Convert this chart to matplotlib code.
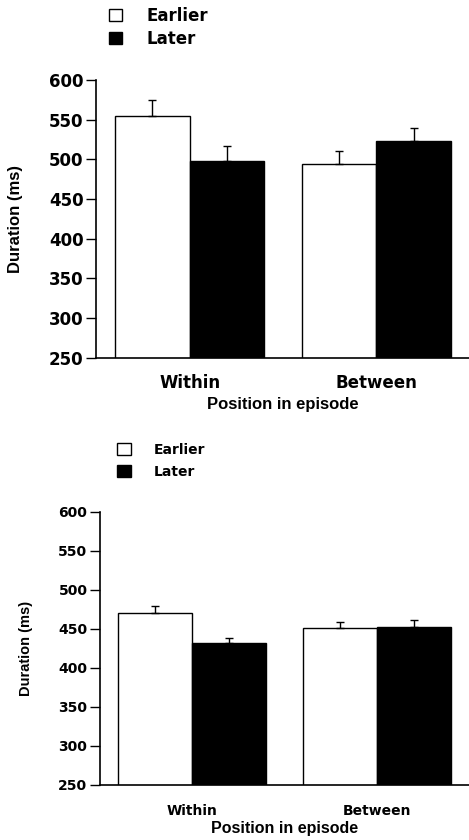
import matplotlib.pyplot as plt
from matplotlib.patches import Patch

# values (ms)
groups = ["Within", "Between"]
series = ["Earlier", "Later"]

top_earlier = [554, 494]
top_earlier_err = [20, 16]
top_later = [498, 523]
top_later_err = [19, 16]

bot_earlier = [471, 451]
bot_earlier_err = [8, 8]
bot_later = [432, 453]
bot_later_err = [7, 8]

yticks = [250, 300, 350, 400, 450, 500, 550, 600]

fig = plt.figure(figsize=(4.69, 8.40), dpi=100)


def panel(rect, earlier, e_err, later, l_err, fs, ylab_fs, xlab_fs,
          xpad, xlabpad, ylabpad, leg_anchor, hsize, htpad, lspace):
    ax = fig.add_axes(rect)
    x = [0, 1]
    w = 0.4
    ax.bar([i - w / 2 for i in x], earlier, width=w, color="white",
           edgecolor="black", linewidth=1.0, zorder=2)
    ax.bar([i + w / 2 for i in x], later, width=w, color="black",
           edgecolor="black", linewidth=1.0, zorder=2)
    ax.errorbar([i - w / 2 for i in x], earlier, yerr=[[0, 0], e_err], fmt="none",
                ecolor="black", elinewidth=1.0, capsize=3, capthick=1.0, zorder=3)
    ax.errorbar([i + w / 2 for i in x], later, yerr=[[0, 0], l_err], fmt="none",
                ecolor="black", elinewidth=1.0, capsize=3, capthick=1.0, zorder=1)
    ax.set_xlim(-0.5, 1.5)
    ax.set_ylim(250, 600)
    ax.set_yticks(yticks)
    ax.set_yticklabels([str(t) for t in yticks], fontsize=fs,
                       fontweight="bold", family="DejaVu Sans")
    ax.set_xticks(x)
    ax.set_xticklabels(groups, fontsize=fs, fontweight="bold", family="DejaVu Sans")
    ax.tick_params(axis="x", length=0, pad=xpad)
    ax.tick_params(axis="y", length=7, width=1.0, direction="out", pad=2)
    for s in ["top", "right"]:
        ax.spines[s].set_visible(False)
    for s in ["left", "bottom"]:
        ax.spines[s].set_linewidth(1.2)
    ax.set_ylabel("Duration (ms)", fontsize=ylab_fs, fontweight="bold",
                  family="Liberation Sans", labelpad=ylabpad)
    ax.set_xlabel("Position in episode", fontsize=xlab_fs, fontweight="bold",
                  family="Liberation Sans", labelpad=xlabpad)
    handles = [Patch(facecolor="white", edgecolor="black", linewidth=1.0),
               Patch(facecolor="black", edgecolor="black", linewidth=1.0)]
    fig.legend(handles, series, loc="upper left", bbox_to_anchor=leg_anchor,
               frameon=False, borderpad=0, borderaxespad=0,
               handlelength=hsize, handleheight=hsize,
               handletextpad=htpad, labelspacing=lspace,
               prop={"size": fs, "weight": "bold", "family": "DejaVu Sans"})
    return ax


panel([0.205, 0.574, 0.797, 0.331], top_earlier, top_earlier_err,
      top_later, top_later_err, 12, 12, 12,
      11.5, 3.5, 19, (0.232, 0.992), 0.8, 1.45, 0.3)
panel([0.213, 0.0655, 0.789, 0.325], bot_earlier, bot_earlier_err,
      bot_later, bot_later_err, 10, 10.5, 11.5,
      14, 2, 18, (0.2495, 0.4726), 1.0, 1.66, 0.55)

fig.savefig("out.png", dpi=100)
